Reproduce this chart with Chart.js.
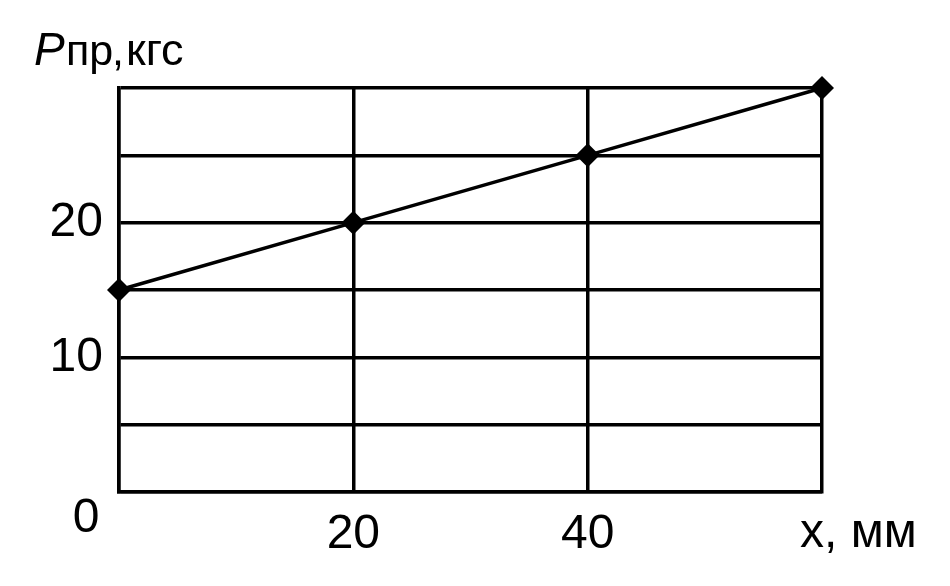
<!DOCTYPE html>
<html>
<head>
<meta charset="utf-8">
<script src="https://cdn.jsdelivr.net/npm/chart.js@4/dist/chart.umd.min.js"></script>
<style>
  html, body { margin: 0; padding: 0; background: #fff; }
  #wrap { width: 950px; height: 586px; }
</style>
</head>
<body>
<div id="wrap"><canvas id="c" width="950" height="586"></canvas></div>
<script>
const xValues = [0, 20, 40, 60];
const forceValues = [15, 20, 25, 30];
const xTickLabels = { 20: '20', 40: '40' };
const yTickLabels = { 10: '10', 20: '20' };
const originLabel = '0';
const xAxisTitle = 'x, мм';
const yTitleMain = 'P';
const yTitleSub = 'пр';
const yTitleSep = ',';
const yTitleUnit = 'кгс';

const FONT = '"Liberation Sans", Arial, sans-serif';

const labelsPlugin = {
  id: 'labels',
  afterDraw(chart) {
    const ctx = chart.ctx;
    const xs = chart.scales.x, ys = chart.scales.y;
    ctx.save();
    ctx.fillStyle = '#000';
    ctx.textBaseline = 'alphabetic';
    // origin label
    ctx.font = '48px ' + FONT;
    ctx.textAlign = 'center';
    ctx.fillText(originLabel, xs.getPixelForValue(0) - 33, ys.getPixelForValue(0) + 40);
    // x axis title
    ctx.textAlign = 'left';
    ctx.fillText(xAxisTitle, xs.right - 22, ys.getPixelForValue(0) + 55);
    // y axis title
    ctx.font = 'italic 46px ' + FONT;
    ctx.fillText(yTitleMain, 34, 65);
    ctx.font = '43px ' + FONT;
    ctx.fillText(yTitleSub, 66, 65);
    ctx.fillText(yTitleSep, 112, 65);
    ctx.font = '45px ' + FONT;
    ctx.fillText(yTitleUnit, 126, 65);
    ctx.restore();
  }
};

new Chart(document.getElementById('c'), {
  type: 'scatter',
  data: {
    datasets: [{
      data: xValues.map((x, i) => ({ x: x, y: forceValues[i] })),
      showLine: true,
      borderColor: '#000',
      borderWidth: 3.5,
      tension: 0,
      pointStyle: 'rectRot',
      pointRadius: 12,
      pointHoverRadius: 12,
      pointBackgroundColor: '#000',
      pointBorderColor: '#000',
      pointBorderWidth: 0,
      clip: false
    }]
  },
  options: {
    responsive: false,
    animation: false,
    events: [],
    layout: { padding: { left: 0, top: 88, right: 128, bottom: 0 } },
    plugins: { legend: { display: false }, tooltip: { enabled: false }, title: { display: false } },
    scales: {
      x: {
        type: 'linear',
        min: 0, max: 60,
        afterFit(s) { s.height = 94; },
        ticks: {
          stepSize: 20,
          autoSkip: false,
          maxRotation: 0,
          padding: 14,
          color: '#000',
          font: { family: FONT, size: 48 },
          callback: (v) => xTickLabels[v] || ''
        },
        grid: { color: '#000', lineWidth: 3.5, drawTicks: false },
        border: { color: '#000', width: 3.5 }
      },
      y: {
        type: 'linear',
        min: 0, max: 30,
        afterFit(s) { s.width = 119; },
        ticks: {
          stepSize: 5,
          autoSkip: false,
          padding: 16,
          color: '#000',
          font: { family: FONT, size: 48 },
          callback: (v) => yTickLabels[v] || ''
        },
        grid: { color: '#000', lineWidth: 3.5, drawTicks: false },
        border: { color: '#000', width: 3.5 }
      }
    }
  },
  plugins: [labelsPlugin]
});
</script>
</body>
</html>
